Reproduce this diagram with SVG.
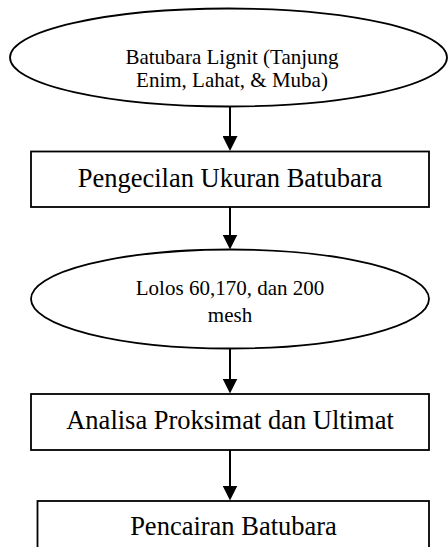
<svg xmlns="http://www.w3.org/2000/svg" width="448" height="547" viewBox="0 0 448 547">
  <style>
    .shape { fill: #ffffff; stroke: #000000; stroke-width: 1.8; }
    .conn { fill: none; stroke: #000000; stroke-width: 2; }
    .t { font-family: "Liberation Serif", "Times New Roman", serif; fill: #000000; text-anchor: middle; }
    .small { font-size: 21px; }
    .big { font-size: 26.5px; }
  </style>
  <defs>
    <marker id="arrow" markerUnits="userSpaceOnUse" markerWidth="15" markerHeight="15" viewBox="0 0 15 15" refX="7" refY="7.5" orient="auto">
      <path d="M0,0 L15,7.5 L0,15 Z" fill="#000000"/>
    </marker>
  </defs>
  <rect width="448" height="547" fill="#ffffff"/>

  <g id="connectors">
    <path class="conn" d="M230,106.5 L230,143" marker-end="url(#arrow)"/>
    <path class="conn" d="M230,207 L230,241.5" marker-end="url(#arrow)"/>
    <path class="conn" d="M230,348.5 L230,385.5" marker-end="url(#arrow)"/>
    <path class="conn" d="M230,450 L230,492.5" marker-end="url(#arrow)"/>
  </g>

  <g id="node-batubara">
    <ellipse class="shape" cx="228.5" cy="57.5" rx="218.5" ry="49"/>
    <text class="t small" x="232" y="64">Batubara Lignit (Tanjung</text>
    <text class="t small" x="232" y="87">Enim, Lahat, &amp; Muba)</text>
  </g>

  <g id="node-pengecilan">
    <rect class="shape" x="31" y="151.5" width="398" height="55.5"/>
    <text class="t big" x="230" y="187">Pengecilan Ukuran Batubara</text>
  </g>

  <g id="node-lolos">
    <ellipse class="shape" cx="230" cy="299" rx="199" ry="49.5"/>
    <text class="t small" x="230" y="295">Lolos 60,170, dan 200</text>
    <text class="t small" x="230" y="322">mesh</text>
  </g>

  <g id="node-analisa">
    <rect class="shape" x="31" y="394" width="398" height="56"/>
    <text class="t big" x="230" y="429">Analisa Proksimat dan Ultimat</text>
  </g>

  <g id="node-pencairan">
    <rect class="shape" x="37.5" y="501" width="391.5" height="60"/>
    <text class="t big" x="233.5" y="535">Pencairan Batubara</text>
  </g>
</svg>
